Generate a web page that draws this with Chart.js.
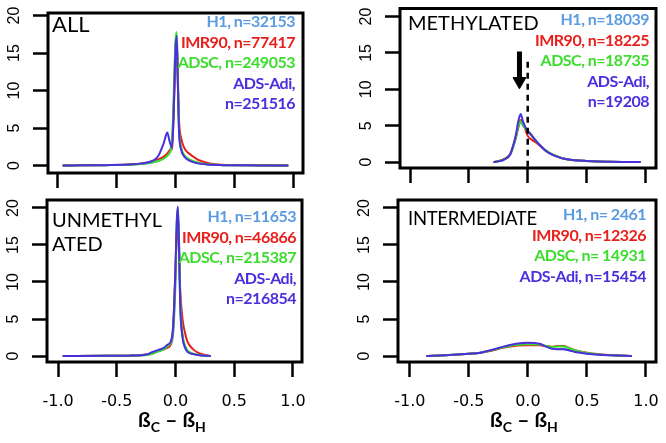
<!DOCTYPE html>
<html>
<head>
<meta charset="utf-8">
<script src="https://cdn.jsdelivr.net/npm/chart.js@4"></script>
<style>
  body { margin: 0; background: #fff; }
  #wrap { position: relative; width: 666px; height: 443px; overflow: hidden; }
  canvas { position: absolute; }
  .lab { position: absolute; font-family: Lato, sans-serif; font-size: 20px; line-height: 24px; color: #000; white-space: nowrap; }
  .leg { position: absolute; font-family: Lato, sans-serif; font-weight: bold; font-size: 16px; letter-spacing: -0.5px; line-height: 20.5px; text-align: right; white-space: nowrap; }
  .xt { position: absolute; width: 200px; text-align: center; font-family: Lato, sans-serif; font-weight: bold; font-size: 21px; line-height: 24px; }
  .xt sub { font-size: 14px; vertical-align: -5px; }
</style>
</head>
<body>
<div id="wrap">
  <canvas id="c-all" width="333" height="200" style="left:0;top:0"></canvas>
  <canvas id="c-met" width="333" height="200" style="left:333px;top:0"></canvas>
  <canvas id="c-unm" width="333" height="248" style="left:0;top:195px"></canvas>
  <canvas id="c-int" width="333" height="248" style="left:333px;top:195px"></canvas>

  <div class="lab" style="left:52px;top:12px;font-size:22px">ALL</div>
  <div class="lab" style="left:408px;top:10px">METHYLATED</div>
  <div class="lab" style="left:52px;top:207px">UNMETHYL<br>ATED</div>
  <div class="lab" style="left:408px;top:206px;font-size:18.5px;letter-spacing:-0.3px">INTERMEDIATE</div>

  <div class="leg" id="leg-all" style="right:371px;top:11px"></div>
  <div class="leg" id="leg-met" style="right:17px;top:9px"></div>
  <div class="leg" id="leg-unm" style="right:370px;top:206px"></div>
  <div class="leg" id="leg-int" style="right:20px;top:204px"></div>

  <div class="xt" style="left:72px;top:407px">ß<sub>C</sub> – ß<sub>H</sub></div>
  <div class="xt" style="left:424px;top:407px">ß<sub>C</sub> – ß<sub>H</sub></div>
</div>

<script>
/* =====================
   DATA
===================== */

const seriesNames = ['H1', 'IMR90', 'ADSC', 'ADS-Adi'];
const seriesColors = ['#5b9be0', '#e8201c', '#3cdc2c', '#4a2fdc'];

const xTicks = [-1, -0.5, 0, 0.5, 1];
const yTicks = [0, 5, 10, 15, 20];

// ALL
const allX    = [-0.96, -0.8, -0.6, -0.4, -0.3, -0.2, -0.15, -0.1, -0.07, -0.05, -0.03, -0.02, 0, 0.01, 0.02, 0.03, 0.05, 0.08, 0.1, 0.15, 0.2, 0.3, 0.4, 0.6, 0.8, 0.96];
const allH1   = [0, 0.02, 0.05, 0.1, 0.2, 0.4, 0.6, 1.0, 1.4, 1.8, 3.5, 6, 16, 17.5, 12, 5, 2.2, 1.2, 0.9, 0.5, 0.3, 0.1, 0.05, 0.02, 0.01, 0];
const allIMR  = [0, 0.03, 0.06, 0.15, 0.25, 0.5, 0.8, 1.2, 1.6, 2.0, 2.2, 5, 14, 16.5, 11, 6, 3.5, 2.2, 1.8, 1.2, 0.7, 0.25, 0.1, 0.04, 0.02, 0];
const allADSC = [0, 0.02, 0.05, 0.1, 0.2, 0.4, 0.6, 0.9, 1.3, 1.7, 3, 7, 16.5, 17.8, 12, 5, 2.3, 1.3, 1.0, 0.6, 0.35, 0.12, 0.05, 0.02, 0.01, 0];
const allADI  = [0, 0.02, 0.05, 0.12, 0.25, 0.6, 1.2, 3.0, 4.4, 3.2, 2.4, 5, 15.5, 17.3, 11, 4.5, 2, 1.1, 0.8, 0.45, 0.25, 0.1, 0.05, 0.02, 0.01, 0];
const allLegend = [['H1, n=32153', 0], ['IMR90, n=77417', 1], ['ADSC, n=249053', 2], ['ADS-Adi,', 3], ['n=251516', 3]];

// METHYLATED
const metX    = [-0.29, -0.25, -0.2, -0.15, -0.12, -0.1, -0.08, -0.06, -0.04, -0.02, 0, 0.03, 0.06, 0.1, 0.15, 0.2, 0.25, 0.3, 0.4, 0.5, 0.6, 0.7, 0.8, 0.96];
const metH1   = [0, 0.1, 0.35, 1.0, 2.2, 3.3, 4.8, 5.5, 5.0, 4.6, 4.3, 3.8, 3.2, 2.4, 1.6, 1.1, 0.75, 0.5, 0.25, 0.15, 0.08, 0.05, 0.03, 0.02];
const metIMR  = [0, 0.15, 0.45, 1.1, 2.4, 3.5, 4.8, 5.8, 5.4, 4.5, 3.6, 3.1, 2.8, 2.3, 1.6, 1.1, 0.75, 0.5, 0.25, 0.15, 0.08, 0.05, 0.03, 0.02];
const metADSC = [0, 0.12, 0.4, 1.0, 2.3, 3.4, 4.9, 5.6, 5.1, 4.6, 4.3, 3.7, 3.1, 2.4, 1.7, 1.15, 0.8, 0.5, 0.25, 0.15, 0.08, 0.05, 0.03, 0.02];
const metADI  = [0, 0.1, 0.35, 1.0, 2.5, 3.8, 5.6, 6.6, 5.6, 4.8, 4.3, 3.7, 3.1, 2.4, 1.6, 1.1, 0.75, 0.5, 0.25, 0.15, 0.08, 0.05, 0.03, 0.02];
const metLegend = [['H1, n=18039', 0], ['IMR90, n=18225', 1], ['ADSC, n=18735', 2], ['ADS-Adi,', 3], ['n=19208', 3]];
const metDashX = [0, 0];
const metDashY = [13.8, -1];
const metArrowX = [-0.07, -0.07];
const metArrowY = [15.2, 11.6];
const metArrowTip = 11.1;

// UNMETHYLATED
const unmX    = [-0.96, -0.6, -0.4, -0.25, -0.2, -0.15, -0.1, -0.07, -0.04, -0.02, 0, 0.01, 0.02, 0.03, 0.04, 0.06, 0.08, 0.1, 0.15, 0.2, 0.25, 0.3];
const unmH1   = [0, 0.02, 0.05, 0.15, 0.3, 0.6, 0.9, 1.2, 1.6, 3, 10, 17, 19.5, 15, 7, 2.5, 1.2, 0.7, 0.3, 0.15, 0.05, 0];
const unmIMR  = [0, 0.02, 0.05, 0.2, 0.4, 0.7, 0.9, 1.1, 1.6, 4, 12, 16.5, 17.5, 14, 9, 5, 3.2, 2.0, 0.9, 0.4, 0.15, 0];
const unmADSC = [0, 0.02, 0.05, 0.15, 0.3, 0.6, 0.9, 1.3, 1.8, 3.5, 11, 17.5, 20, 16, 8, 3, 1.5, 0.8, 0.3, 0.15, 0.05, 0];
const unmADI  = [0, 0.02, 0.05, 0.2, 0.5, 0.8, 1.1, 1.5, 2, 4, 12, 18, 20.2, 15, 7, 2.5, 1.2, 0.6, 0.25, 0.1, 0.05, 0];
const unmLegend = [['H1, n=11653', 0], ['IMR90, n=46866', 1], ['ADSC, n=215387', 2], ['ADS-Adi,', 3], ['n=216854', 3]];

// INTERMEDIATE
const intX    = [-0.86, -0.7, -0.5, -0.4, -0.3, -0.2, -0.1, 0, 0.1, 0.15, 0.2, 0.25, 0.3, 0.35, 0.4, 0.5, 0.6, 0.7, 0.88];
const intH1   = [0, 0.1, 0.3, 0.45, 0.8, 1.25, 1.6, 1.7, 1.6, 1.3, 1.0, 0.95, 0.95, 0.8, 0.6, 0.35, 0.2, 0.1, 0];
const intIMR  = [0, 0.1, 0.3, 0.45, 0.75, 1.15, 1.4, 1.45, 1.45, 1.35, 1.25, 1.35, 1.35, 1.1, 0.8, 0.45, 0.25, 0.12, 0];
const intADSC = [0, 0.1, 0.3, 0.45, 0.8, 1.2, 1.5, 1.6, 1.55, 1.4, 1.2, 1.3, 1.3, 1.05, 0.75, 0.4, 0.22, 0.1, 0];
const intADI  = [0, 0.1, 0.3, 0.45, 0.85, 1.3, 1.65, 1.8, 1.65, 1.3, 1.0, 0.9, 0.9, 0.75, 0.55, 0.32, 0.18, 0.1, 0];
const intLegend = [['H1, n= 2461', 0], ['IMR90, n=12326', 1], ['ADSC, n= 14931', 2], ['ADS-Adi, n=15454', 3]];


/* =====================
   HELPERS
===================== */

// frame round the plot, R style
const boxPlugin = {
    id: 'box',
    afterDraw(chart) {
        const a = chart.chartArea;
        const c = chart.ctx;
        c.save();
        c.lineWidth = 3;
        c.strokeStyle = '#000';
        c.strokeRect(a.left, a.top, a.right - a.left, a.bottom - a.top);
        c.restore();
    }
};

// y tick labels turned 90 degrees, like R does
const yLabelPlugin = {
    id: 'ylabels',
    afterDraw(chart) {
        const s = chart.scales.y;
        const c = chart.ctx;
        c.save();
        c.fillStyle = '#000';
        c.font = '16px "Liberation Sans"';
        c.textAlign = 'center';
        c.textBaseline = 'middle';
        s.ticks.forEach(t => {
            const py = s.getPixelForValue(t.value);
            c.save();
            c.translate(s.right - 33, py);
            c.rotate(-Math.PI / 2);
            c.fillText(String(t.value), 0, 0);
            c.restore();
        });
        c.restore();
    }
};

function pts(xs, ys) {
    return xs.map((x, i) => ({ x: x, y: ys[i] }));
}

function curveSets(xs, seriesList) {
    // ADS-Adi drawn on top, so it goes first
    const sets = seriesList.map((ys, i) => ({
        label: seriesNames[i],
        data: pts(xs, ys),
        borderColor: seriesColors[i],
        borderWidth: 2,
        pointRadius: 0,
        fill: false,
        cubicInterpolationMode: 'monotone'
    }));
    return sets.reverse();
}

function tickGrid() {
    return {
        drawOnChartArea: false,
        drawTicks: true,
        tickLength: 15,
        tickColor: '#000',
        tickWidth: 2.5
    };
}

function makePanel(id, p) {
    const ctx = document.getElementById(id).getContext('2d');
    return new Chart(ctx, {
        type: 'line',
        data: { datasets: p.datasets },
        options: {
            animation: false,
            responsive: false,
            events: [],
            layout: { padding: p.padding },
            plugins: { legend: { display: false }, tooltip: { enabled: false } },
            scales: {
                x: {
                    type: 'linear',
                    min: p.xMin,
                    max: p.xMax,
                    afterBuildTicks: s => { s.ticks = xTicks.map(v => ({ value: v })); },
                    afterFit: s => { s.height = p.xAxisH; s.paddingLeft = 0; s.paddingRight = 0; },
                    border: { display: false },
                    grid: tickGrid(),
                    ticks: {
                        display: p.showX,
                        padding: 15,
                        maxRotation: 0,
                        color: '#000',
                        font: { family: 'DejaVu Sans', size: 16 },
                        callback: v => v.toFixed(1)
                    }
                },
                y: {
                    type: 'linear',
                    min: p.yMin,
                    max: p.yMax,
                    afterBuildTicks: s => { s.ticks = yTicks.map(v => ({ value: v })); },
                    afterFit: s => { s.width = p.yAxisW; s.paddingTop = 0; s.paddingBottom = 0; },
                    border: { display: false },
                    grid: tickGrid(),
                    ticks: { display: false }
                }
            }
        },
        plugins: [boxPlugin, yLabelPlugin]
    });
}

function fillLegend(id, lines) {
    const el = document.getElementById(id);
    el.innerHTML = lines.map(l =>
        '<div style="color:' + seriesColors[l[1]] + '">' + l[0] + '</div>').join('');
}


/* =====================
   CREATE CHARTS
===================== */

makePanel('c-all', {
    datasets: curveSets(allX, [allH1, allIMR, allADSC, allADI]),
    xMin: -1.085, xMax: 1.085, yMin: -1.0, yMax: 20.35,
    padding: { left: 0, top: 13, right: 30, bottom: 7 },
    yAxisW: 48, xAxisH: 20, showX: false
});

const metSets = curveSets(metX, [metH1, metIMR, metADSC, metADI]);
metSets.unshift({
    label: 'zero',
    data: pts(metDashX, metDashY),
    borderColor: '#000',
    borderWidth: 2.5,
    borderDash: [6, 5],
    pointRadius: 0
});
metSets.unshift({
    label: 'shaft',
    data: pts(metArrowX, metArrowY),
    borderColor: '#000',
    borderWidth: 5,
    pointRadius: 0
});
metSets.unshift({
    label: 'head',
    data: [{ x: metArrowX[0], y: metArrowTip }],
    showLine: false,
    pointStyle: 'triangle',
    rotation: 180,
    pointRadius: 7.5,
    backgroundColor: '#000',
    borderColor: '#000',
    borderWidth: 1
});

makePanel('c-met', {
    datasets: metSets,
    xMin: -1.085, xMax: 1.09, yMin: -0.81, yMax: 21.1,
    padding: { left: 0, top: 7, right: 10, bottom: 12 },
    yAxisW: 67, xAxisH: 20, showX: false
});

makePanel('c-unm', {
    datasets: curveSets(unmX, [unmH1, unmIMR, unmADSC, unmADI]),
    xMin: -1.094, xMax: 1.077, yMin: -0.81, yMax: 21.08,
    padding: { left: 0, top: 5, right: 31, bottom: 31 },
    yAxisW: 47, xAxisH: 50, showX: true
});

makePanel('c-int', {
    datasets: curveSets(intX, [intH1, intIMR, intADSC, intADI]),
    xMin: -1.1, xMax: 1.085, yMin: -0.81, yMax: 21.08,
    padding: { left: 0, top: 5, right: 10, bottom: 31 },
    yAxisW: 65, xAxisH: 50, showX: true
});

fillLegend('leg-all', allLegend);
fillLegend('leg-met', metLegend);
fillLegend('leg-unm', unmLegend);
fillLegend('leg-int', intLegend);
</script>
</body>
</html>
